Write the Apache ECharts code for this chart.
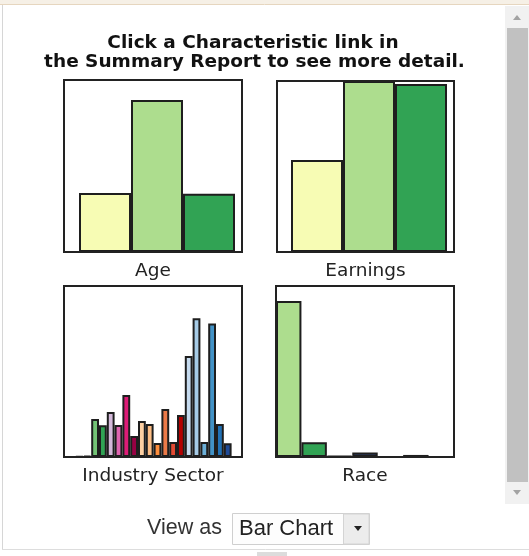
<!DOCTYPE html>
<html>
<head>
<meta charset="utf-8">
<script src="https://cdn.jsdelivr.net/npm/echarts@6/dist/echarts.min.js"></script>
<style>
  html, body { margin: 0; padding: 0; background: #ffffff; }
  #chart { width: 529px; height: 556px; }
</style>
</head>
<body>
<div id="chart"></div>
<script>
// Share of workers per group, each panel on a 0-100 scale of its own.
const ageCategories = ['14-18', '19-21', '22-24'];
const ageValues = [34.3, 88.4, 33.9];
const ageColors = ['#f7fcb4', '#addd8e', '#31a354'];

const earningsCategories = ['Low', 'Middle', 'High'];
const earningsValues = [53.8, 100, 98.2];
const earningsColors = ['#f7fcb4', '#addd8e', '#31a354'];

const industryCategories = [
  'Agriculture', 'Mining', 'Utilities', 'Construction', 'Manufacturing',
  'Wholesale', 'Retail', 'Transportation', 'Information', 'Finance',
  'Real Estate', 'Professional', 'Management', 'Administrative', 'Education',
  'Health Care', 'Arts', 'Accommodation', 'Other Services', 'Public Admin'
];
const industryValues = [
  0.3, 0.7, 22.2, 18.5, 26.3, 18.7, 36.3, 12.3, 21.1, 19.3,
  8.2, 28.1, 8.8, 24.6, 59.1, 81.1, 8.8, 78.1, 19.3, 8.0
];
const industryColors = [
  '#c7e9c0', '#a1d99b', '#74c476', '#31a354', '#d4b9da', '#df65b0',
  '#dd1c77', '#980043', '#fdd0a2', '#fdbe85', '#fd8d3c', '#ec7a48',
  '#e34a33', '#b30000', '#c6dbef', '#a6cbe6', '#6baed6', '#4292c6',
  '#2171b5', '#1f4a96'
];

const raceCategories = ['White', 'Black', 'American Indian', 'Asian', 'Pacific Islander', 'Other', 'Two or More'];
const raceValues = [91.2, 8.6, 0.6, 2.6, 0, 1.2, 0];
const raceColors = ['#addd8e', '#31a354', '#1b6b3a', '#2c3e6b', '#3b3b6b', '#232348', '#444444'];

// Panel layout: bar area (grid) and surrounding frame for each small chart.
const panels = [
  { name: 'Age', cats: ageCategories, vals: ageValues, colors: ageColors, border: 2,
    grid: { left: 79, top: 80, width: 156, height: 172 },
    frame: { x: 64, y: 80, width: 178, height: 172 } },
  { name: 'Earnings', cats: earningsCategories, vals: earningsValues, colors: earningsColors, border: 2,
    grid: { left: 291, top: 81, width: 156, height: 171 },
    frame: { x: 277, y: 81, width: 177, height: 171 } },
  { name: 'Industry Sector', cats: industryCategories, vals: industryValues, colors: industryColors, border: 2,
    grid: { left: 75.6, top: 286, width: 156, height: 171 },
    frame: { x: 64, y: 286, width: 178, height: 171 } },
  { name: 'Race', cats: raceCategories, vals: raceValues, colors: raceColors, border: 2,
    grid: { left: 276, top: 286, width: 178, height: 171 },
    frame: { x: 276, y: 286, width: 178, height: 171 } }
];

const labelFont = '"DejaVu Sans", Verdana, sans-serif';
const uiFont = '"Liberation Sans", Arial, sans-serif';

const grids = [], xAxes = [], yAxes = [], series = [];
const graphics = [];

// Page chrome: top band, left border, scrollbar, bottom border.
graphics.push(
  { type: 'rect', shape: { x: 0, y: 0, width: 529, height: 4 }, style: { fill: '#f6f0e6' }, silent: true },
  { type: 'line', shape: { x1: 0, y1: 4.5, x2: 529, y2: 4.5 }, style: { stroke: '#e6d6bf', lineWidth: 1 }, silent: true },
  { type: 'line', shape: { x1: 2.5, y1: 5, x2: 2.5, y2: 549 }, style: { stroke: '#d6d6d6', lineWidth: 1 }, silent: true },
  { type: 'rect', shape: { x: 505, y: 6, width: 24, height: 498 }, style: { fill: '#f1f1f1' }, silent: true },
  { type: 'rect', shape: { x: 507, y: 28, width: 21, height: 454 }, style: { fill: '#c1c1c1' }, silent: true },
  { type: 'polygon', shape: { points: [[513, 20], [521, 20], [517, 15]] }, style: { fill: '#a3a3a3' }, silent: true },
  { type: 'polygon', shape: { points: [[513, 490], [521, 490], [517, 495]] }, style: { fill: '#a3a3a3' }, silent: true },
  { type: 'line', shape: { x1: 2, y1: 549.5, x2: 529, y2: 549.5 }, style: { stroke: '#dddddd', lineWidth: 1 }, silent: true },
  { type: 'rect', shape: { x: 257, y: 552, width: 30, height: 4 }, style: { fill: '#dcdcdc' }, silent: true }
);

// Heading.
graphics.push(
  { type: 'text', x: 253, y: 43, style: { text: 'Click a Characteristic link in', font: 'bold 18.5px ' + labelFont, fill: '#111', align: 'center', verticalAlign: 'middle' } },
  { type: 'text', x: 254.5, y: 62, style: { text: 'the Summary Report to see more detail.', font: 'bold 18.5px ' + labelFont, fill: '#111', align: 'center', verticalAlign: 'middle' } }
);

panels.forEach((p, i) => {
  grids.push(Object.assign({ containLabel: false }, p.grid));
  xAxes.push({ type: 'category', gridIndex: i, data: p.cats, show: false });
  yAxes.push({ type: 'value', gridIndex: i, min: 0, max: 100, show: false });
  series.push({
    type: 'bar',
    xAxisIndex: i,
    yAxisIndex: i,
    barWidth: '100%',
    barCategoryGap: '0%',
    clip: true,
    data: p.vals.map((v, k) => ({ value: v, itemStyle: { color: p.colors[k] } })),
    itemStyle: { borderColor: '#1e1e1e', borderWidth: p.border },
    emphasis: { disabled: true }
  });
  graphics.push({
    type: 'rect', z: 100, silent: true,
    shape: p.frame,
    style: { fill: 'none', stroke: '#222', lineWidth: 2 }
  });
  graphics.push({
    type: 'text', z: 100,
    x: p.frame.x + p.frame.width / 2,
    y: p.frame.y + p.frame.height + 19,
    style: { text: p.name, font: '18.5px ' + labelFont, fill: '#222', align: 'center', verticalAlign: 'middle' }
  });
});

// "View as" selector below the charts.
graphics.push(
  { type: 'text', x: 147, y: 528, style: { text: 'View as', font: '21.5px ' + uiFont, fill: '#333', align: 'left', verticalAlign: 'middle' } },
  { type: 'rect', shape: { x: 232.5, y: 513.5, width: 137, height: 31 }, style: { fill: '#fdfdfd', stroke: '#cfcfcf', lineWidth: 1 } },
  { type: 'rect', shape: { x: 343.5, y: 514, width: 25.5, height: 30 }, style: { fill: '#ececec', stroke: '#d4d4d4', lineWidth: 1 } },
  { type: 'text', x: 239, y: 529, style: { text: 'Bar Chart', font: '22px ' + uiFont, fill: '#222', align: 'left', verticalAlign: 'middle' } },
  { type: 'polygon', shape: { points: [[354, 526], [362, 526], [358, 531]] }, style: { fill: '#222' } }
);

const chart = echarts.init(document.getElementById('chart'), null, { renderer: 'canvas' });
chart.setOption({
  animation: false,
  backgroundColor: '#ffffff',
  grid: grids,
  xAxis: xAxes,
  yAxis: yAxes,
  series: series,
  graphic: graphics
});
</script>
</body>
</html>
